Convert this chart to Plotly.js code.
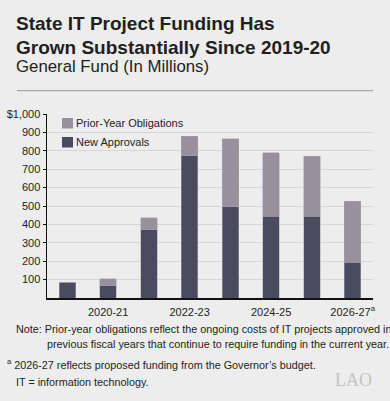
<!DOCTYPE html>
<html>
<head>
<meta charset="utf-8">
<script src="https://cdn.plot.ly/plotly-3.0.1.min.js"></script>
<style>
  html, body { margin: 0; padding: 0; background: #ECEDEC; }
  #chart { width: 390px; height: 401px; }
</style>
</head>
<body>
<div id="chart"></div>
<script>
// ---- Data ----
const years = ['2019-20', '2020-21', '2021-22', '2022-23', '2023-24', '2024-25', '2025-26', '2026-27'];
const newApprovals = [86, 66, 372, 772, 495, 444, 444, 195];
const priorYear = [0, 38, 65, 107, 371, 346, 326, 331];
const seriesNames = ['New Approvals', 'Prior-Year Obligations'];
const xTickVals = ['2020-21', '2022-23', '2024-25', '2026-27'];
const xTickText = ['2020-21', '2022-23', '2024-25', '2026-27<sup>a</sup>'];
const yTickVals = [100, 200, 300, 400, 500, 600, 700, 800, 900, 1000];
const yTickText = ['100', '200', '300', '400', '500', '600', '700', '800', '900', '$1,000'];

// ---- Layout geometry (pixels) ----
const W = 390, H = 401;
const L = 47, R = 373, T = 114, B = 298;
const px = x => (x - L) / (R - L);
const py = y => (B - y) / (B - T);

const darkColor = '#4B4A5F';
const lightColor = '#96919C';
const font = 'Liberation Sans, Arial, Helvetica, sans-serif';
const textColor = '#231F20';

const traces = [
  {
    type: 'bar', x: years, y: newApprovals, name: seriesNames[0],
    marker: { color: darkColor, line: { color: '#A8A5AE', width: 0.5 } },
    width: 0.41, hoverinfo: 'x+y+name'
  },
  {
    type: 'bar', x: years, y: priorYear, name: seriesNames[1],
    marker: { color: lightColor, line: { color: '#A8A5AE', width: 0.5 } },
    width: 0.41, hoverinfo: 'x+y+name'
  }
];

const ann = (text, x, y, opts) => Object.assign({
  text: text, xref: 'paper', yref: 'paper', x: px(x), y: py(y),
  xanchor: 'left', yanchor: 'middle', showarrow: false,
  font: { family: font, size: 10.8, color: textColor }, align: 'left'
}, opts || {});

const annotations = [
  ann('<b>State IT Project Funding Has</b>', 14, 23.5, { font: { family: font, size: 19, color: textColor } }),
  ann('<b>Grown Substantially Since 2019-20</b>', 14, 47.5, { font: { family: font, size: 19, color: textColor } }),
  ann('General Fund (In Millions)', 14, 66.5, { font: { family: font, size: 16.8, color: textColor } }),
  // legend (custom)
  ann(seriesNames[1], 74, 123, { font: { family: font, size: 11, color: textColor } }),
  ann(seriesNames[0], 74, 142, { font: { family: font, size: 11, color: textColor } }),
  // notes
  ann('Note: Prior-year obligations reflect the ongoing costs of IT projects approved in', 14, 329),
  ann('previous fiscal years that continue to require funding in the current year.', 45, 344),
  ann('<sup>a</sup> 2026-27 reflects proposed funding from the Governor\u2019s budget.', 5, 364),
  ann('IT = information technology.', 14, 382),
  ann('LAO', 374, 380, { xanchor: 'right', font: { family: 'Liberation Serif, Times New Roman, serif', size: 18, color: '#C4C4C4' } })
];

const shapes = [
  { type: 'line', xref: 'paper', yref: 'paper', x0: px(17), x1: px(373), y0: py(90.7), y1: py(90.7),
    line: { color: '#9A9A9A', width: 1 } },
  { type: 'rect', xref: 'paper', yref: 'paper', x0: px(62), x1: px(73), y0: py(118), y1: py(128.5),
    fillcolor: lightColor, line: { width: 0 } },
  { type: 'rect', xref: 'paper', yref: 'paper', x0: px(62), x1: px(73), y0: py(137), y1: py(147.5),
    fillcolor: darkColor, line: { width: 0 } }
];

const layout = {
  width: W, height: H,
  margin: { l: L, r: W - R, t: T, b: H - B, pad: 0 },
  paper_bgcolor: '#ECEDEC', plot_bgcolor: '#ECEDEC',
  barmode: 'stack', bargap: 0.59,
  showlegend: false,
  font: { family: font, size: 11, color: textColor },
  xaxis: {
    type: 'category', range: [-0.5, 7.5],
    tickmode: 'array', tickvals: xTickVals, ticktext: xTickText,
    showline: true, linecolor: '#111', linewidth: 1.5,
    ticks: 'outside', ticklen: 3, tickcolor: 'rgba(0,0,0,0)',
    showgrid: false, zeroline: false, fixedrange: true,
    tickfont: { family: font, size: 11, color: textColor }
  },
  yaxis: {
    range: [0, 1000],
    tickmode: 'array', tickvals: yTickVals, ticktext: yTickText,
    showline: true, linecolor: '#111', linewidth: 1.5,
    ticks: 'outside', ticklen: 3, tickcolor: '#111', tickwidth: 1,
    showgrid: true, gridcolor: '#D6D6D6', gridwidth: 1,
    zeroline: false, fixedrange: true,
    tickfont: { family: font, size: 11, color: textColor }
  },
  annotations: annotations,
  shapes: shapes
};

Plotly.newPlot('chart', traces, layout, { displayModeBar: false, staticPlot: true });
</script>
</body>
</html>
